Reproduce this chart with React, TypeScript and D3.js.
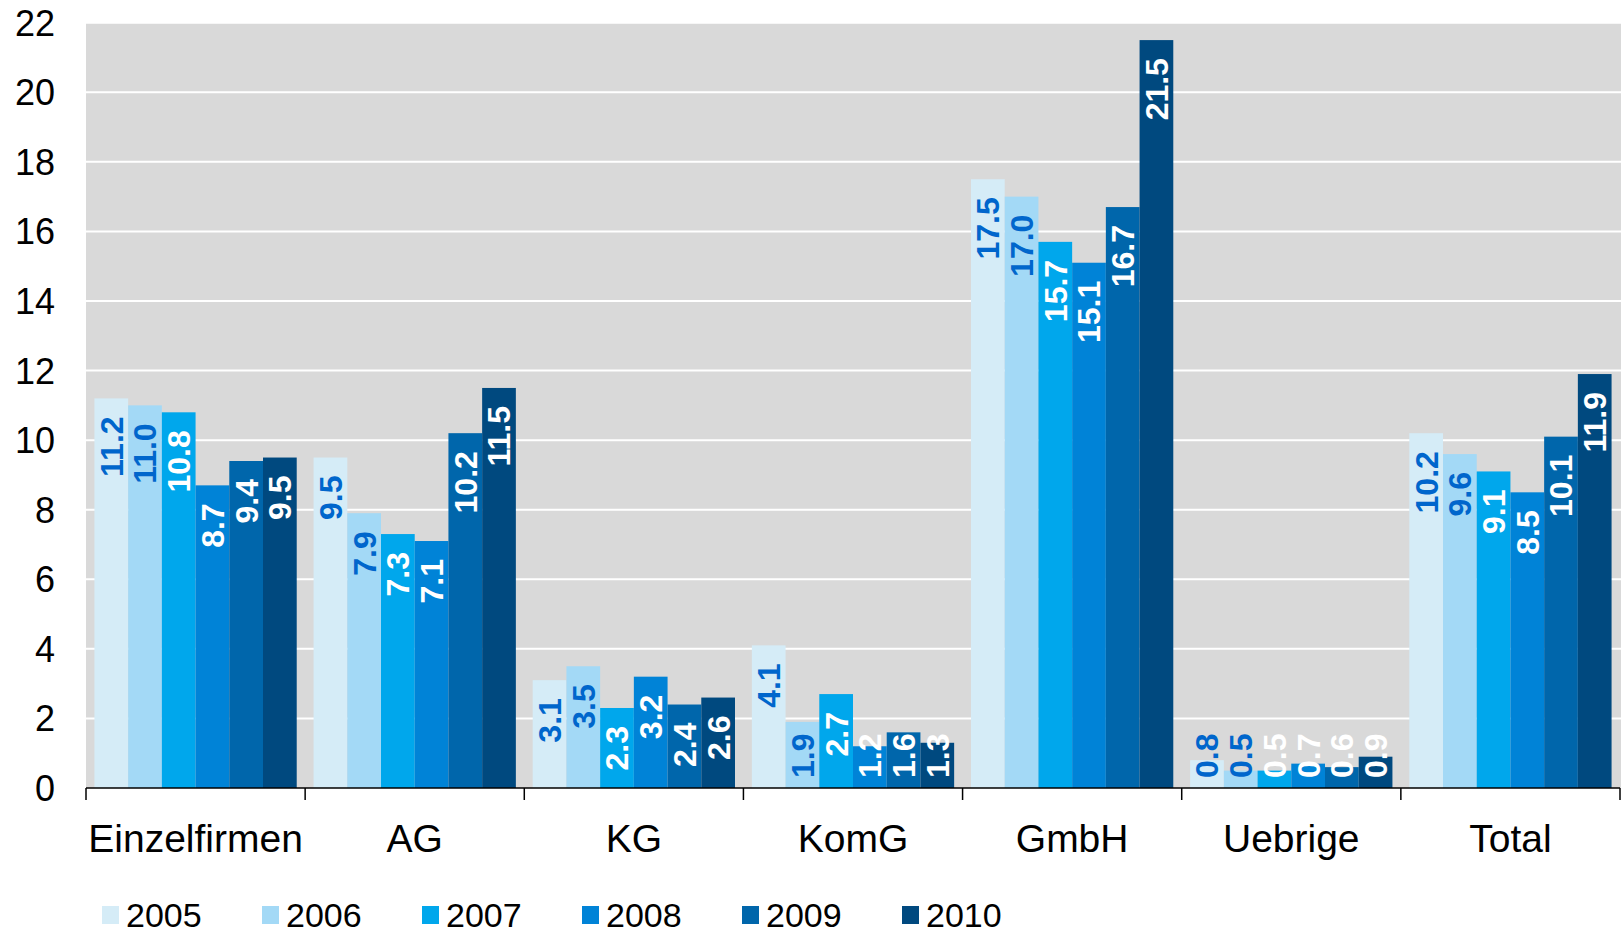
import * as d3 from "d3";

const categories = ["Einzelfirmen", "AG", "KG", "KomG", "GmbH", "Uebrige", "Total"];
const years = ["2005", "2006", "2007", "2008", "2009", "2010"];

// one array per year, in category order
const v2005 = [11.2, 9.5, 3.1, 4.1, 17.5, 0.8, 10.2];
const v2006 = [11.0, 7.9, 3.5, 1.9, 17.0, 0.5, 9.6];
const v2007 = [10.8, 7.3, 2.3, 2.7, 15.7, 0.5, 9.1];
const v2008 = [8.7, 7.1, 3.2, 1.2, 15.1, 0.7, 8.5];
const v2009 = [9.4, 10.2, 2.4, 1.6, 16.7, 0.6, 10.1];
const v2010 = [9.5, 11.5, 2.6, 1.3, 21.5, 0.9, 11.9];
const series = [v2005, v2006, v2007, v2008, v2009, v2010];

const yTicks = [0, 2, 4, 6, 8, 10, 12, 14, 16, 18, 20, 22];

const colors = ["#d5ecf7", "#a3d9f6", "#00a7ec", "#0083d7", "#0066ab", "#00497f"];
const labelColors = ["#0066cc", "#0066cc", "#ffffff", "#ffffff", "#ffffff", "#ffffff"];

const W = 1621;
const H = 933;
const margin = { left: 86, right: 1, top: 22.7, bottom: 788 };
const FONT = "'Liberation Sans', Arial, sans-serif";
const labelSize = 32;

export default function App() {
  const x0 = d3
    .scaleBand()
    .domain(categories)
    .range([margin.left, W - margin.right]); // category slots, no padding

  const x1 = d3
    .scaleBand()
    .domain(years)
    .range([0, x0.bandwidth()])
    .paddingInner(0)
    .paddingOuter(0.25); // Excel-like gap around each cluster

  const y = d3.scaleLinear().domain([0, 22]).range([margin.bottom, margin.top]);

  const labelLen = (s: string) =>
    labelSize * s.split("").reduce((acc, ch) => acc + (ch === "." ? 0.278 : 0.556), 0);

  const boundaries = d3.range(categories.length + 1).map((i) => margin.left + i * x0.step());

  return (
    <svg
      width={W}
      height={H}
      style={{ position: "absolute", left: 0, top: 0, display: "block", background: "#fff" }}
      fontFamily={FONT}
    >
      {/* plot background */}
      <rect
        x={margin.left}
        y={y(22)}
        width={W - margin.right - margin.left + 1}
        height={y(0) - y(22)}
        fill="#d9d9d9"
      />

      {/* gridlines */}
      <g stroke="#ffffff" strokeWidth={2}>
        {yTicks
          .filter((t) => t > 0)
          .map((t) => (
            <line key={t} x1={margin.left} x2={W} y1={y(t)} y2={y(t)} />
          ))}
      </g>

      {/* y tick labels */}
      <g fontSize={36} fill="#000" textAnchor="end">
        {yTicks.map((t) => (
          <text key={t} x={55} y={y(t) + 13}>
            {t}
          </text>
        ))}
      </g>

      {/* bars */}
      {series.map((vals, si) => (
        <g key={years[si]} fill={colors[si]}>
          {vals.map((v, ci) => (
            <rect
              key={ci}
              x={(x0(categories[ci]) as number) + (x1(years[si]) as number)}
              y={y(v)}
              width={x1.bandwidth()}
              height={y(0) - y(v)}
            />
          ))}
        </g>
      ))}

      {/* value labels */}
      {series.map((vals, si) => (
        <g
          key={"l" + years[si]}
          fill={labelColors[si]}
          fontSize={labelSize}
          fontWeight="bold"
        >
          {vals.map((v, ci) => {
            const s = v.toFixed(1);
            const cx = (x0(categories[ci]) as number) + (x1(years[si]) as number) + x1.bandwidth() / 2;
            const bx = cx + labelSize * 0.358;
            const top = y(v) + 18;
            const fits = top + labelLen(s) <= y(0) - 10;
            return fits ? (
              <text key={ci} transform={`translate(${bx},${top}) rotate(-90)`} textAnchor="end">
                {s}
              </text>
            ) : (
              <text key={ci} transform={`translate(${bx},${y(0) - 10}) rotate(-90)`} textAnchor="start">
                {s}
              </text>
            );
          })}
        </g>
      ))}

      {/* x axis */}
      <g stroke="#000" strokeWidth={1.5}>
        <line x1={margin.left} x2={W - margin.right} y1={y(0)} y2={y(0)} />
        {boundaries.map((bx, i) => (
          <line key={i} x1={bx} x2={bx} y1={y(0)} y2={y(0) + 12} />
        ))}
      </g>
      <g fontSize={39} fill="#000" textAnchor="middle">
        {categories.map((c) => (
          <text key={c} x={(x0(c) as number) + x0.bandwidth() / 2} y={852}>
            {c}
          </text>
        ))}
      </g>

      {/* legend */}
      <g fontSize={34} fill="#000">
        {years.map((yr, i) => (
          <g key={yr} transform={`translate(${102 + i * 160},0)`}>
            <rect x={0} y={906} width={17} height={18} fill={colors[i]} />
            <text x={24} y={927}>
              {yr}
            </text>
          </g>
        ))}
      </g>
    </svg>
  );
}
